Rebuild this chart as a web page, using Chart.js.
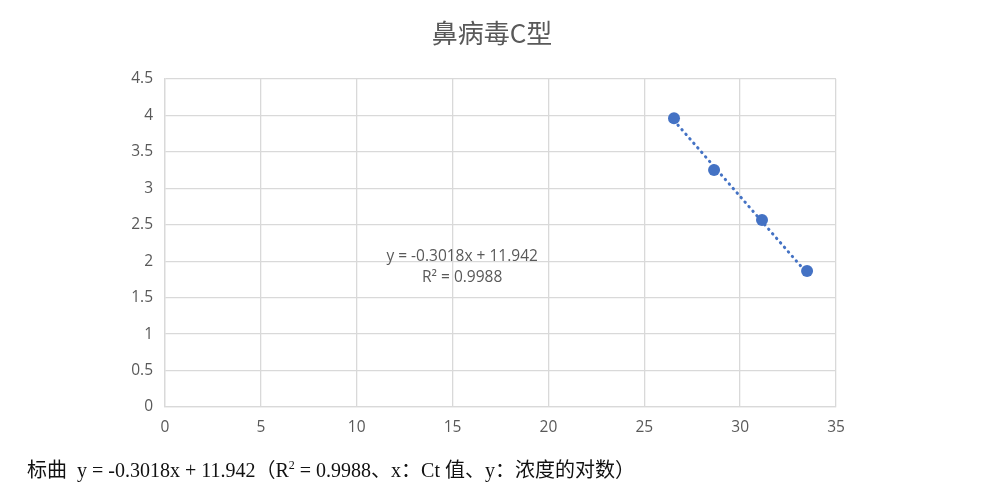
<!DOCTYPE html>
<html><head><meta charset="utf-8">
<script src="https://cdn.jsdelivr.net/npm/chart.js@4/dist/chart.umd.min.js"></script>
<style>
html,body{margin:0;padding:0;background:#fff;}
#wrap{position:relative;width:999px;height:494px;overflow:hidden;}
canvas{position:absolute;left:0;top:0;}
#cap{position:absolute;left:27px;top:454px;font-family:"Liberation Serif","Noto Sans CJK SC",serif;font-size:20px;color:#111;white-space:nowrap;}
#cap sup{font-size:12px;vertical-align:8px;line-height:0;}
</style></head>
<body><div id="wrap"><canvas id="c" width="999" height="494"></canvas>
<div id="cap">标曲&nbsp; y = -0.3018x + 11.942（R<sup>2</sup> = 0.9988、x：Ct 值、y：浓度的对数）</div></div>
<script>
const titleText = "鼻病毒C型";
const ctValues = [26.55, 28.64, 31.14, 33.49];
const logConc = [3.96, 3.25, 2.565, 1.866];
const trendX = [26.55, 33.49];
const trendY = [3.93, 1.835];
const eqLine1 = "y = -0.3018x + 11.942";
const eqLine2 = "R² = 0.9988";

const pts = ctValues.map((x,i)=>({x:x,y:logConc[i]}));
const trend = trendX.map((x,i)=>({x:x,y:trendY[i]}));

const overlay = {
  id:'overlay',
  afterDraw(chart){
    const ctx = chart.ctx;
    ctx.save();
    ctx.fillStyle = '#595959';
    ctx.textAlign = 'center';
    ctx.textBaseline = 'middle';
    ctx.font = '26px "Noto Sans CJK SC", "Open Sans", sans-serif';
    ctx.fillText(titleText, 492, 33);
    const xs = chart.scales.x, ys = chart.scales.y;
    const cx = xs.getPixelForValue(15.5);
    ctx.font = '15.5px "Open Sans", sans-serif';
    ctx.fillText(eqLine1, cx, ys.getPixelForValue(2.07));
    ctx.fillText(eqLine2, cx, ys.getPixelForValue(1.77));
    ctx.restore();
  }
};

new Chart(document.getElementById('c'), {
  type:'scatter',
  data:{datasets:[
    {data:trend, showLine:true, pointRadius:0, borderColor:'#4472C4', borderWidth:3, borderDash:[0.5,5.5], borderCapStyle:'round', fill:false, order:2},
    {data:pts, pointRadius:6, pointHoverRadius:6, backgroundColor:'#4472C4', borderColor:'#4472C4', borderWidth:0, order:1}
  ]},
  options:{
    responsive:false, animation:false, devicePixelRatio:1,
    layout:{padding:{top:79,right:163,left:0,bottom:0}},
    plugins:{legend:{display:false}, tooltip:{enabled:false}, title:{display:false}},
    scales:{
      x:{type:'linear', min:0, max:35,
        ticks:{stepSize:5, color:'#595959', font:{family:'"Open Sans", sans-serif', size:15.5}, padding:11, callback:v=>String(v)},
        grid:{color:'#d9d9d9', lineWidth:1.3, drawTicks:false},
        border:{color:'#d9d9d9', width:1.3},
        afterFit(s){ s.height = 87; }
      },
      y:{type:'linear', min:0, max:4.5,
        ticks:{stepSize:0.5, color:'#595959', font:{family:'"Open Sans", sans-serif', size:15.5}, padding:12, callback:v=>String(v)},
        grid:{color:'#d9d9d9', lineWidth:1.3, drawTicks:false},
        border:{color:'#d9d9d9', width:1.3},
        afterFit(s){ s.width = 165; }
      }
    }
  },
  plugins:[overlay]
});
</script></body></html>
